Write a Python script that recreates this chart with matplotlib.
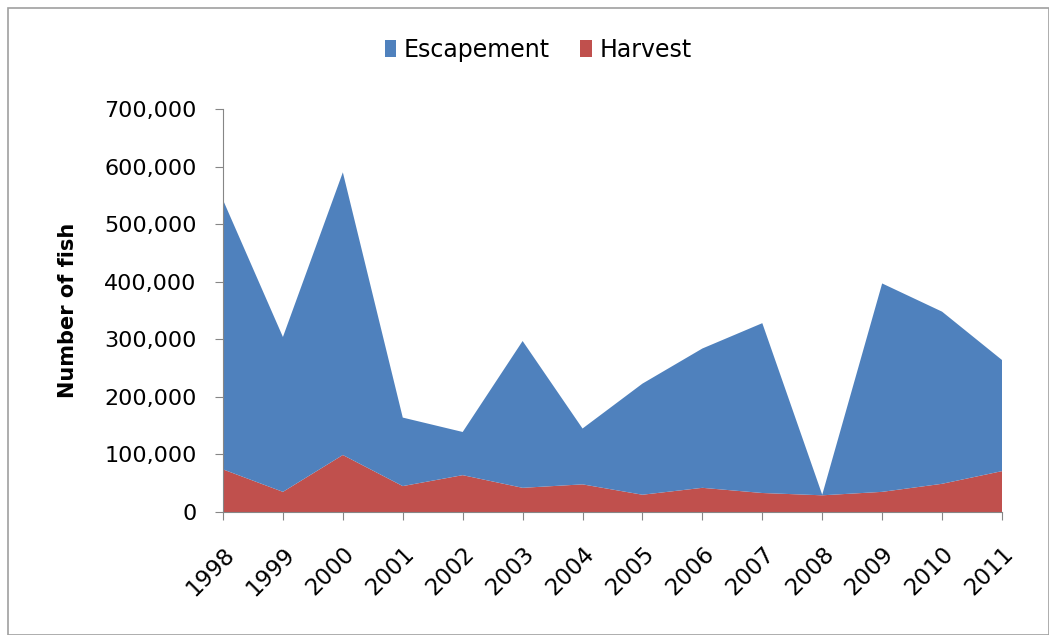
import matplotlib.pyplot as plt
from matplotlib.patches import Rectangle
from matplotlib.ticker import FuncFormatter

years = ["1998", "1999", "2000", "2001", "2002", "2003", "2004",
         "2005", "2006", "2007", "2008", "2009", "2010", "2011"]
harvest = [74000, 35000, 99000, 45000, 64000, 42000, 48000,
           30000, 42000, 33000, 29000, 35000, 49000, 71000]
escapement = [468000, 269000, 491000, 119000, 75000, 255000, 97000,
              193000, 242000, 295000, 1000, 362000, 299000, 193000]

plt.rcParams['font.family'] = ['DejaVu Sans']

fig = plt.figure(figsize=(10.49, 6.35), dpi=100)
ax = fig.add_axes([223 / 1049, 1 - 512 / 635, (1002 - 223) / 1049, (512 - 109) / 635])

x = list(range(len(years)))
ax.stackplot(x, harvest, escapement, colors=["#C0504D", "#4F81BD"],
             labels=["Harvest", "Escapement"], linewidth=0)

ax.set_xlim(0, len(years) - 1)
ax.set_ylim(0, 700000)
ax.set_yticks(range(0, 700001, 100000))
ax.yaxis.set_major_formatter(FuncFormatter(lambda v, p: f"{int(v):,}"))
ax.set_xticks(x)
ax.set_xticklabels(years, rotation=45, ha="right", rotation_mode="anchor")
ax.tick_params(axis="both", labelsize=16, color="#868686", length=6)
ax.tick_params(axis="x", labelsize=16.5, pad=16)
ax.tick_params(axis="y", pad=13)

for s in ["top", "right"]:
    ax.spines[s].set_visible(False)
for s in ["left", "bottom"]:
    ax.spines[s].set_color("#868686")

ax.set_ylabel("Number of fish", fontsize=15, fontweight="bold", labelpad=19)

h, l = ax.get_legend_handles_labels()
fig.legend(h[::-1], l[::-1], loc="center", bbox_to_anchor=(538 / 1049, 1 - 50 / 635),
           ncol=2, frameon=False, fontsize=17, handlelength=0.5, handleheight=0.7,
           handletextpad=0.3, columnspacing=1.3)

fig.patches.append(Rectangle((8 / 1049, 0), 1 - 8 / 1049, 1 - 8 / 635,
                             transform=fig.transFigure, fill=False,
                             edgecolor="#A0A0A0", linewidth=1.2))

fig.savefig("out.png", dpi=100)
